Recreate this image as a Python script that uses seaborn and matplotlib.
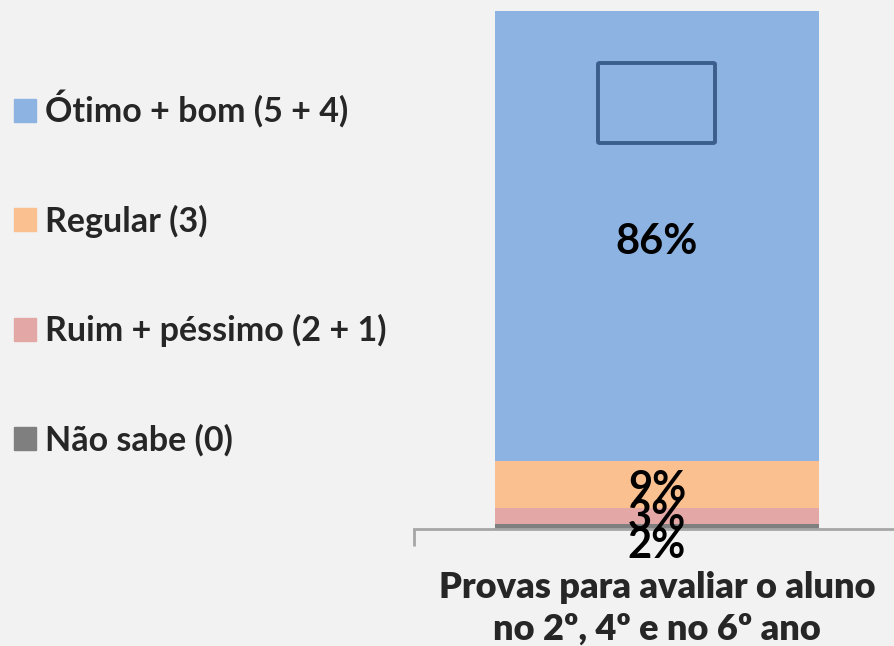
import matplotlib
matplotlib.use("Agg")
import matplotlib.pyplot as plt
import matplotlib.patches as mpatches
import seaborn as sns
import pandas as pd
import numpy as np

categories = ["Provas para avaliar o aluno\nno 2º, 4º e no 6º ano"]
series = ["Ótimo + bom (5 + 4)", "Regular (3)", "Ruim + péssimo (2 + 1)", "Não sabe (0)"]
values = [86, 9, 3, 2]
labels = ["86%", "9%", "3%", "2%"]
colors = ["#8DB3E2", "#FAC090", "#E3A7A6", "#7F7F7F"]

sns.set_theme(style="white")
plt.rcParams["font.family"] = ["Lato", "DejaVu Sans"]
bg = "#F2F2F2"

fig = plt.figure(figsize=(8.95, 6.46), dpi=100, facecolor=bg)
ax = fig.add_axes([414 / 895, 1 - 529 / 646, 486 / 895, 518 / 646])
ax.set_facecolor(bg)

# cumulative tops from the bottom segment upwards
tops = np.cumsum(values[::-1])[::-1]  # [100, 14, 5, 2]
handles = []
for name, top, col in zip(series, tops, colors):
    df = pd.DataFrame({"cat": categories, "val": [top]})
    sns.barplot(data=df, x="cat", y="val", color=col, width=0.667,
                saturation=1, ax=ax, errorbar=None, zorder=2, linewidth=0,
                edgecolor=col)
    handles.append(mpatches.Patch(color=col, label=name))

ax.set_ylim(1, 100)
ax.set_xlim(-0.5, 0.5)

# data labels at segment centres
offsets = [-6, -4, -2, -17]
for top, v, lab, off in zip(tops, values, labels, offsets):
    ax.annotate(lab, (0, top - v / 2), xytext=(0, off), textcoords="offset pixels",
                ha="center", va="center", fontsize=30, fontweight="bold",
                color="black", zorder=5, annotation_clip=False)

for s in ["top", "right", "left"]:
    ax.spines[s].set_visible(False)
ax.spines["bottom"].set_color("#A6A6A6")
ax.spines["bottom"].set_linewidth(2)
ax.set_yticks([])
ax.set_xlabel("")
ax.set_ylabel("")
ax.tick_params(axis="x", which="major", length=0, pad=30, labelsize=26)
for t in ax.get_xticklabels():
    t.set_fontweight("heavy")
    t.set_linespacing(1.32)
ax.set_xticks([-0.5, 0.5], minor=True)
ax.tick_params(axis="x", which="minor", bottom=True, length=12, width=2,
               color="#A6A6A6", direction="out")

leg = fig.legend(handles=handles, loc="upper left", bbox_to_anchor=(-0.019, 0.908),
                 frameon=False, handlelength=0.66, handleheight=0.66,
                 handletextpad=0.25, labelspacing=2.25,
                 prop={"weight": "bold", "size": 24.5})

# annotation shape
rect = mpatches.FancyBboxPatch((598 / 895, 1 - 143 / 646), 117 / 895, 80 / 646,
                               boxstyle="round,pad=0,rounding_size=0.002",
                               transform=fig.transFigure, facecolor="none",
                               edgecolor="#3B5E8C", linewidth=2.8, zorder=10)
fig.patches.append(rect)

fig.savefig("out.png", dpi=100, facecolor=bg)
